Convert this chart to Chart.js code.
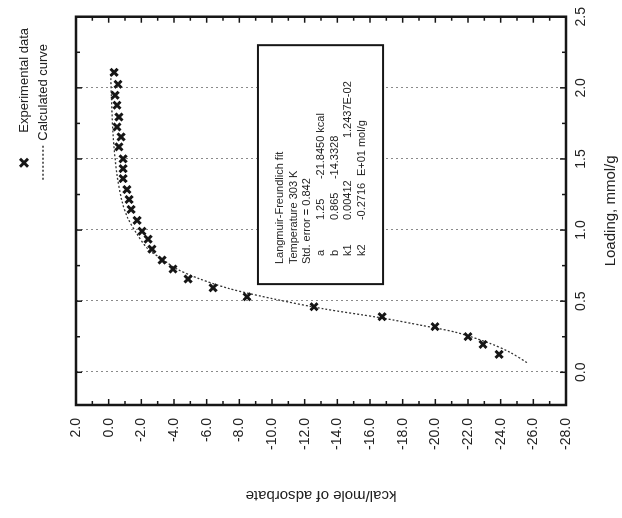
<!DOCTYPE html>
<html><head><meta charset="utf-8">
<script src="https://cdn.jsdelivr.net/npm/chart.js@4/dist/chart.umd.min.js"></script>
<style>
html,body{margin:0;padding:0;background:#fff;overflow:hidden;width:622px;height:518px;}
#wrap{position:absolute;left:0;top:0;width:518px;height:622px;transform-origin:0 0;transform:translate(0,518px) rotate(-90deg);background:#fff;}
</style></head><body>
<div id="wrap"><canvas id="c" width="518" height="622"></canvas></div>
<script>
// Experimental data: loading (mmol/g) and heat (kcal/mole)
const loadingData = [2.109, 2.025, 1.948, 1.878, 1.795, 1.725, 1.655, 1.585, 1.501, 1.432, 1.362, 1.285, 1.215, 1.145, 1.068, 0.992, 0.936, 0.866, 0.789, 0.726, 0.656, 0.594, 0.531, 0.461, 0.391, 0.321, 0.251, 0.196, 0.126];
const heatData = [-0.33, -0.57, -0.39, -0.51, -0.63, -0.51, -0.76, -0.63, -0.88, -0.88, -0.88, -1.12, -1.25, -1.37, -1.74, -2.04, -2.41, -2.65, -3.27, -3.94, -4.86, -6.39, -8.47, -12.57, -16.74, -19.98, -22.0, -22.92, -23.9];
// Calculated curve
const fitLoading = [2.095, 1.669, 1.390, 1.201, 1.082, 0.971, 0.866, 0.796, 0.726, 0.656, 0.587, 0.517, 0.447, 0.384, 0.328, 0.279, 0.203, 0.140, 0.063];
const fitHeat = [-0.12, -0.27, -0.51, -0.82, -1.18, -1.74, -2.41, -3.27, -4.18, -5.59, -7.43, -10.06, -13.13, -16.62, -19.25, -21.33, -23.35, -24.58, -25.68];
// Ticks
const loadingTicks = [0, 0.5, 1.0, 1.5, 2.0, 2.5];
const loadingMinor = [0.25, 0.75, 1.25, 1.75, 2.25];
const heatTicks = [2, 0, -2, -4, -6, -8, -10, -12, -14, -16, -18, -20, -22, -24, -26, -28];
const heatMinor = [1, -1, -3, -5, -7, -9, -11, -13, -15, -17, -19, -21, -23, -25, -27];
// Texts
const legendLabels = ['Experimental data', 'Calculated curve'];
const xTitle = 'Loading, mmol/g';
const yTitle = 'kcal/mole of adsorbate';
const insetHeader = ['Langmuir-Freundlich fit', 'Temperature 303 K', 'Std. error = 0.842'];
const insetNames = ['a', 'b', 'k1', 'k2'];
const insetCol2 = ['1.25', '0.865', '0.00412', '-0.2716'];
const insetCol3 = ['-21.8450 kcal', '-14.3328', '1.2437E-02', 'E+01 mol/g'];

const FONT = 'Liberation Sans, Arial, sans-serif';
const INK = '#161616';

const decor = {
  id: 'decor',
  beforeDatasetsDraw(chart) {
    const {ctx, chartArea: a, scales: {x, y}} = chart;
    ctx.save();
    ctx.strokeStyle = '#8a8a8a';
    ctx.lineWidth = 1;
    ctx.setLineDash([2, 3]);
    loadingTicks.forEach(v => {
      const px = Math.round(x.getPixelForValue(v)) + 0.5;
      ctx.beginPath(); ctx.moveTo(px, a.top); ctx.lineTo(px, a.bottom); ctx.stroke();
    });
    ctx.setLineDash([]);
    const bx0 = x.getPixelForValue(0.62), bx1 = x.getPixelForValue(2.30);
    const by0 = y.getPixelForValue(-9.14), by1 = y.getPixelForValue(-16.8);
    ctx.fillStyle = '#fff';
    ctx.fillRect(bx0, by0, bx1 - bx0, by1 - by0);
    ctx.strokeStyle = INK; ctx.lineWidth = 2;
    ctx.strokeRect(bx0, by0, bx1 - bx0, by1 - by0);
    ctx.fillStyle = '#222';
    ctx.font = '11px ' + FONT;
    ctx.textBaseline = 'middle';
    ctx.textAlign = 'left';
    const lx = bx0 + 20, ly = by0 + 22, lh = 13.7;
    insetHeader.forEach((t, i) => ctx.fillText(t, lx, ly + i * lh));
    insetNames.forEach((t, i) => {
      const yy = ly + (i + 3) * lh;
      ctx.fillText(t, lx + 8, yy);
      ctx.fillText(insetCol2[i], lx + 44, yy);
      ctx.fillText(insetCol3[i], lx + (i === 2 ? 126 : (i === 3 ? 88 : 85)), yy);
    });
    ctx.restore();
  },
  afterDraw(chart) {
    const {ctx, chartArea: a, scales: {x, y}} = chart;
    ctx.save();
    ctx.strokeStyle = INK;
    ctx.lineWidth = 2.5;
    ctx.strokeRect(a.left, a.top, a.right - a.left, a.bottom - a.top);
    ctx.lineWidth = 1.5;
    const tick = (x1, y1, x2, y2) => { ctx.beginPath(); ctx.moveTo(x1, y1); ctx.lineTo(x2, y2); ctx.stroke(); };
    loadingTicks.concat(loadingMinor).forEach(v => {
      const L = loadingTicks.includes(v) ? 6 : 4;
      const px = x.getPixelForValue(v);
      tick(px, a.bottom, px, a.bottom - L);
      tick(px, a.top, px, a.top + L);
    });
    heatTicks.concat(heatMinor).forEach(v => {
      const L = heatTicks.includes(v) ? 6 : 4;
      const py = y.getPixelForValue(v);
      tick(a.left, py, a.left + L, py);
      tick(a.right, py, a.right - L, py);
    });
    const ds = chart.data.datasets;
    ctx.font = '13px ' + FONT;
    ctx.textBaseline = 'middle';
    ctx.textAlign = 'left';
    ctx.fillStyle = '#222';
    const r1 = 24, r2 = 43;
    const mx = a.right - 146;
    ctx.strokeStyle = ds[0].borderColor; ctx.lineWidth = 3;
    const s = 4;
    tick(mx - s, r1 - s, mx + s, r1 + s);
    tick(mx - s, r1 + s, mx + s, r1 - s);
    ctx.fillText(legendLabels[0], a.right - 116, r1);
    ctx.strokeStyle = ds[1].borderColor; ctx.lineWidth = 1.5;
    ctx.setLineDash(ds[1].borderDash);
    tick(a.right - 163, r2, a.right - 129, r2);
    ctx.setLineDash([]);
    ctx.fillText(legendLabels[1], a.right - 124, r2);
    ctx.restore();
  }
};

new Chart(document.getElementById('c'), {
  type: 'scatter',
  data: {
    datasets: [
      {
        label: legendLabels[0],
        data: loadingData.map((v, i) => ({x: v, y: heatData[i]})),
        pointStyle: 'crossRot',
        pointRadius: 5,
        pointBorderWidth: 3,
        borderWidth: 3,
        borderColor: INK,
        backgroundColor: INK,
        showLine: false
      },
      {
        label: legendLabels[1],
        data: fitLoading.map((v, i) => ({x: v, y: fitHeat[i]})),
        showLine: true,
        pointRadius: 0,
        borderColor: '#333',
        borderWidth: 1.3,
        borderDash: [2, 2],
        tension: 0.3,
        fill: false
      }
    ]
  },
  options: {
    responsive: false,
    animation: false,
    devicePixelRatio: 1,
    layout: {padding: {left: 0, top: 76, right: 14, bottom: 0}},
    plugins: {legend: {display: false}, tooltip: {enabled: false}},
    scales: {
      x: {
        type: 'linear', position: 'bottom', min: -0.23, max: 2.5,
        afterBuildTicks: s => { s.ticks = loadingTicks.map(v => ({value: v})); },
        afterFit: s => { s.height = 56; },
        grid: {display: false, drawTicks: false},
        border: {display: false},
        ticks: {padding: 7, color: '#222', font: {family: FONT, size: 14}, maxRotation: 0,
                callback: v => Number(v).toFixed(1)},
        title: {display: true, text: xTitle, color: '#222', font: {family: FONT, size: 15}, padding: {top: 0, bottom: 2}}
      },
      y: {
        type: 'linear', position: 'left', min: -28, max: 2,
        afterBuildTicks: s => { s.ticks = heatTicks.map(v => ({value: v})); },
        afterFit: s => { s.width = 113; },
        grid: {display: false, drawTicks: false},
        border: {display: false},
        ticks: {padding: 13, color: '#222', font: {family: FONT, size: 14},
                callback: v => Number(v).toFixed(1)},
        title: {display: true, text: yTitle, color: '#222', font: {family: FONT, size: 15}, padding: {top: 14, bottom: 0}}
      }
    }
  },
  plugins: [decor]
});
</script>
</body></html>
